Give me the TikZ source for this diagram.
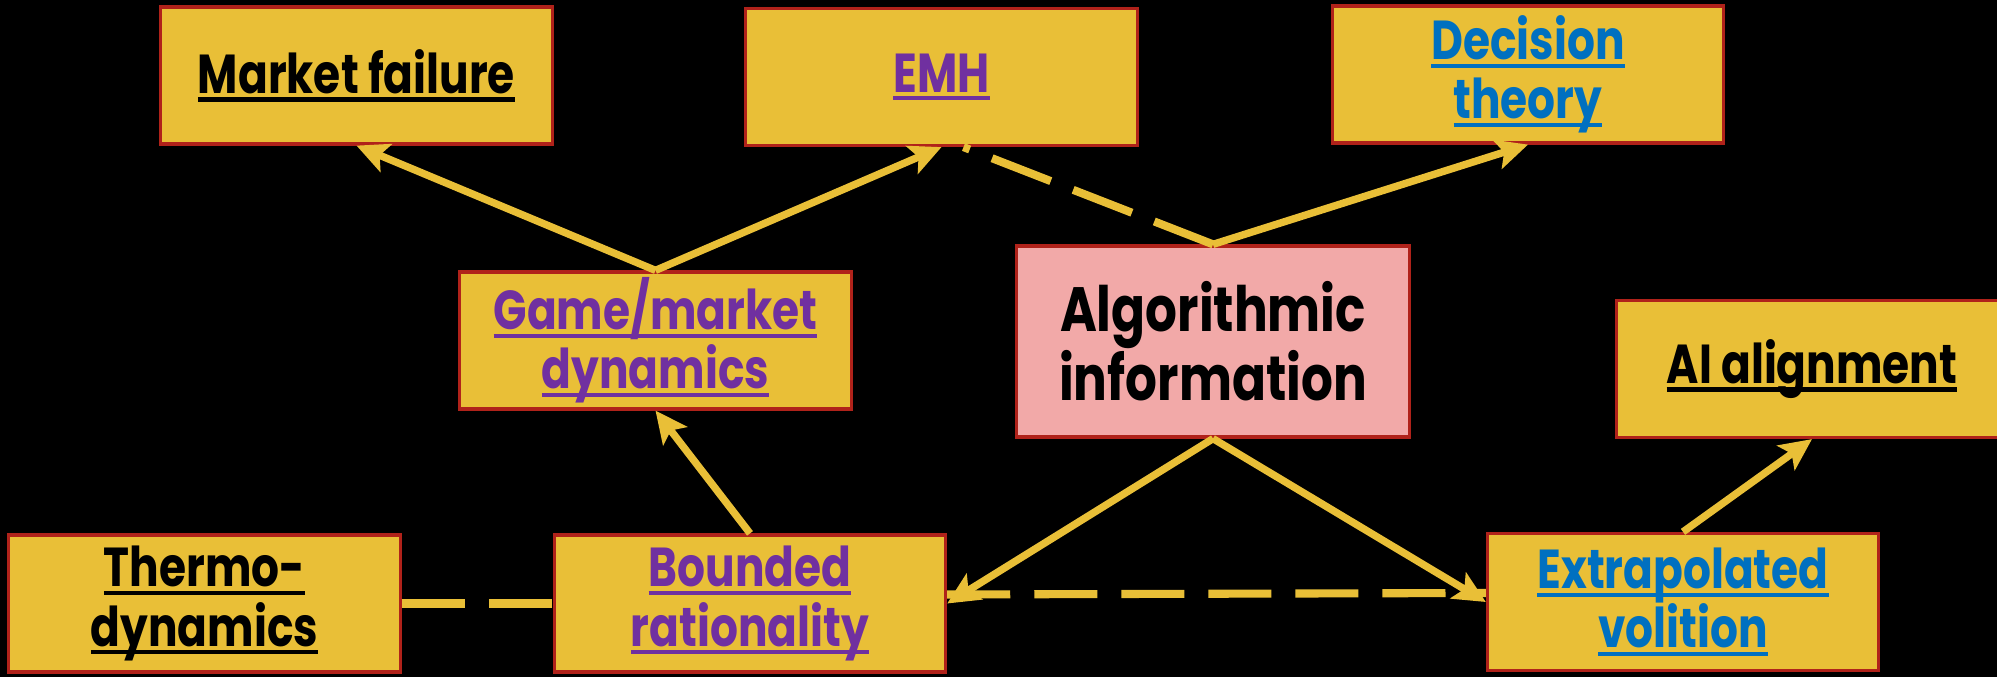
\documentclass[tikz,border=0pt]{standalone}
\usepackage{fontspec}
\usepackage{xcolor}
\usetikzlibrary{arrows.meta}
\newfontfamily\boxfont{Poppins}[FakeStretch=0.8]
\definecolor{dgold}{HTML}{E9BF37}
\definecolor{dred}{HTML}{B0221A}
\definecolor{dpink}{HTML}{F2A9A8}
\definecolor{dpurple}{HTML}{7030A0}
\definecolor{dblue}{HTML}{0070C0}
\newcommand\ulk[1]{\setbox0\hbox{#1}\rlap{\rule[-2.3pt]{\wd0}{1.2pt}}\box0}
\tikzset{
  >={Stealth[length=3.2mm, width=3mm, inset=0.7mm]},
  dtopic/.style={draw=dred, fill=dgold, line width=0.9pt,
                 minimum width=3.91cm, minimum height=1.37cm, align=center,
                 inner sep=0pt, font=\boxfont\bfseries\fontsize{15.6}{16.8}\selectfont},
  dcore/.style={dtopic, fill=dpink, minimum width=3.92cm, minimum height=1.91cm,
                font=\boxfont\bfseries\fontsize{17.8}{19.6}\selectfont},
  dpur/.style={text=dpurple},
  dlnk/.style={text=dblue},
  darrow/.style={->, dgold, line width=2.1pt},
  ddash/.style={dgold, line width=2.3pt, dash pattern=on 6.3mm off 2.4mm},
}

\begin{document}
\begin{tikzpicture}[x=0.01cm,y=-0.01cm]

  \fill[black] (0,0) rectangle (1997,677);
  \clip (0,0) rectangle (1997,677);

  % caixas de cima
  \node[dtopic] (mf) at (356.5,75.5) {\ulk{Market failure}};
  \node[dtopic, dpur] (emh) at (941.5,77) {\ulk{EMH}};
  \node[dtopic, dlnk] (dec) at (1528,74.5) {\ulk{Decision}\\\ulk{theory}};

  % meio
  \node[dtopic, dpur] (game) at (655.5,340.5) {\ulk{Game/market}\\\ulk{dynamics}};
  \node[dcore] (alg) at (1213,341.5) {Algorithmic\\information};
  \node[dtopic] (ai) at (1812,369) {\ulk{AI alignment}};

  % caixas de baixo
  \node[dtopic] (thermo) at (204.5,603.5) {\ulk{Thermo-}\\\ulk{dynamics}};
  \node[dtopic, dpur] (bounded) at (750,603.5) {\ulk{Bounded}\\\ulk{rationality}};
  \node[dtopic, dlnk] (extra) at (1683,602) {\ulk{Extrapolated}\\\ulk{volition}};

  % ligações tracejadas
  \draw[ddash] (alg.north) -- ([xshift=2.2mm]emh.south);
  \draw[ddash] (thermo.east) -- (bounded.west);
  \draw[ddash] ([yshift=0.9mm]bounded.east) -- ([yshift=0.9mm]extra.west);

  % setas
  \foreach \a/\b in {game.north/mf.south, game.north/emh.south,
                     alg.north/dec.south, bounded.north/game.south,
                     alg.south/bounded.east, alg.south/extra.west,
                     extra.north/ai.south}
    \draw[darrow] (\a) -- (\b);

\end{tikzpicture}
\end{document}
